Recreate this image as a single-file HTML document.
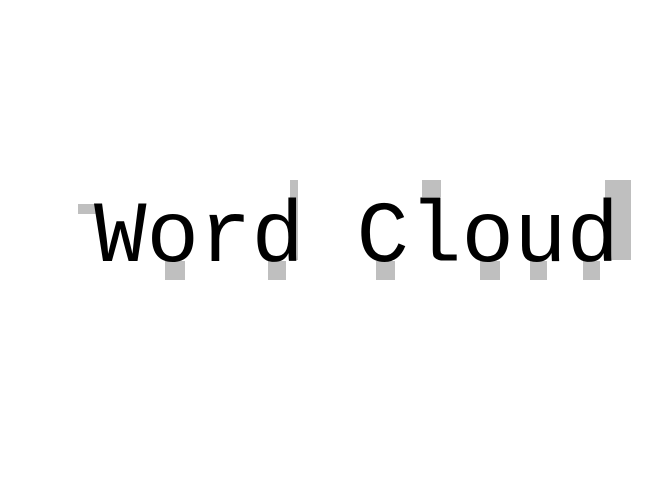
<!DOCTYPE html><html><head><style>
body{margin:0;width:672px;height:480px;background:#fff;position:relative;overflow:hidden}
.g{position:absolute;background:#bfbfbf}
svg{position:absolute;left:0;top:0}
</style></head><body>
<div class="g" style="left:78px;top:204px;width:19px;height:10px"></div>
<div class="g" style="left:165px;top:261px;width:20px;height:19px"></div>
<div class="g" style="left:290px;top:180px;width:8px;height:80px"></div>
<div class="g" style="left:268px;top:261px;width:18px;height:19px"></div>
<div class="g" style="left:376px;top:261px;width:19px;height:19px"></div>
<div class="g" style="left:422px;top:180px;width:19px;height:17px"></div>
<div class="g" style="left:480px;top:261px;width:20px;height:19px"></div>
<div class="g" style="left:530px;top:261px;width:17px;height:19px"></div>
<div class="g" style="left:583px;top:261px;width:17px;height:19px"></div>
<div class="g" style="left:605px;top:180px;width:26px;height:80px"></div>
<svg width="672" height="480"><text x="94" y="261" font-family="Liberation Mono, monospace" font-size="87.5" fill="#000">Word Cloud</text></svg>
</body></html>
